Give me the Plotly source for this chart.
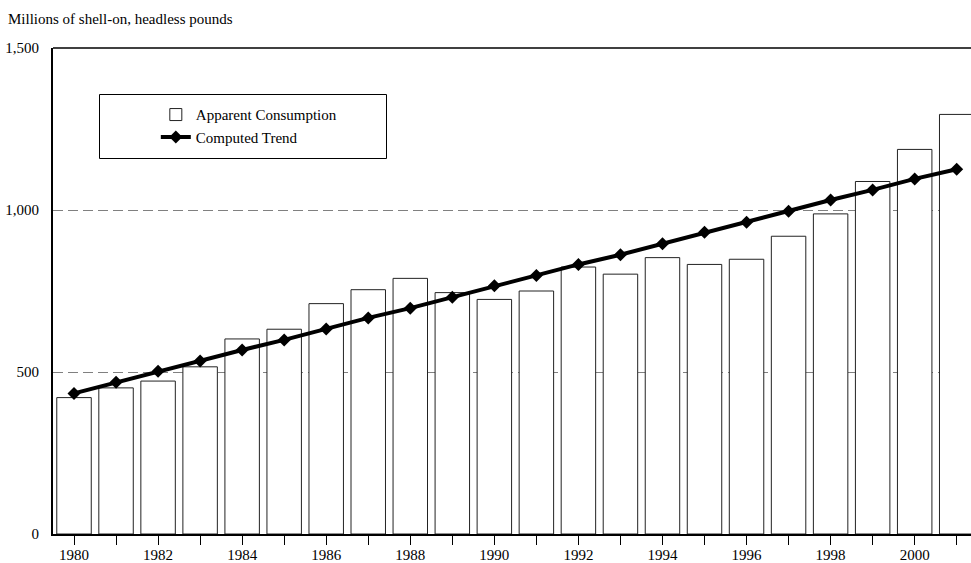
import plotly.graph_objects as go

years = list(range(1980, 2002))
consumption = [421, 451, 472, 516, 602, 632, 711, 754, 789, 745, 724, 750,
               824, 802, 853, 832, 848, 919, 988, 1088, 1187, 1295]
trend = [434, 468, 502, 534, 568, 599, 633, 667, 697, 731, 766, 798,
         832, 862, 896, 931, 962, 996, 1031, 1062, 1096, 1126]
x_tickvals = [1980, 1982, 1984, 1986, 1988, 1990, 1992, 1994, 1996, 1998, 2000]
x_ticktext = [str(v) for v in x_tickvals]
y_tickvals = [0, 500, 1000, 1500]

FONT = "Liberation Serif"

fig = go.Figure()
fig.add_trace(go.Bar(
    x=years, y=consumption, name="Apparent Consumption",
    width=0.82,
    marker=dict(color="white", line=dict(color="#222222", width=1)),
))
fig.add_trace(go.Scatter(
    x=years, y=trend, name="Computed Trend", mode="lines+markers",
    line=dict(color="black", width=4),
    marker=dict(symbol="diamond", size=10, color="black"),
))

fig.update_layout(
    width=971, height=563,
    margin=dict(l=53, r=0, t=48, b=29),
    paper_bgcolor="white", plot_bgcolor="white",
    font=dict(family=FONT, size=15, color="black"),
    title=dict(text="Millions of shell-on, headless pounds",
               x=8 / 971, xanchor="left", xref="container",
               y=1 - 19 / 563, yanchor="middle", yref="container",
               font=dict(family=FONT, size=15, color="black")),
    showlegend=True,
    legend=dict(x=0.112, xanchor="left", y=0.8965, yanchor="top",
                bgcolor="rgba(0,0,0,0)", borderwidth=0,
                font=dict(family=FONT, size=15, color="black"),
                itemwidth=30, tracegroupgap=0),
    bargap=0.18,
)

fig.update_xaxes(
    range=[1979.5, 2001.34],
    tickvals=x_tickvals, ticktext=x_ticktext,
    ticks="outside", ticklen=9, tickwidth=1, tickcolor="black",
    minor=dict(dtick=1, tick0=1980, ticks="outside", ticklen=9,
               tickwidth=1, tickcolor="black"),
    showline=True, linecolor="black", linewidth=2,
    showgrid=False, zeroline=False,
    tickfont=dict(family=FONT, size=15, color="black"),
    ticklabelstandoff=-3,
    automargin=False,
)
fig.update_yaxes(
    range=[0, 1500],
    tickvals=y_tickvals, tickformat=",",
    ticks="",
    showline=True, linecolor="black", linewidth=2,
    showgrid=True, gridcolor="#808080", gridwidth=1, griddash="10px,5px",
    zeroline=False,
    tickfont=dict(family=FONT, size=15, color="black"),
    ticklabelstandoff=9,
    automargin=False,
)

# top frame line
fig.add_shape(type="line", xref="paper", yref="paper",
              x0=0, x1=1, y0=1, y1=1,
              line=dict(color="black", width=1.5))
# legend frame
fig.add_shape(type="rect", xref="paper", yref="paper",
              x0=(99.5 - 53) / 918, x1=(386.5 - 53) / 918,
              y0=(534 - 158.5) / 486, y1=(534 - 94.5) / 486,
              line=dict(color="black", width=1), fillcolor="white",
              layer="above")

fig.write_html("out.html",
               config={"displayModeBar": False},
               post_script="document.body.style.margin='0px';"
                           "document.body.style.overflow='hidden';")
